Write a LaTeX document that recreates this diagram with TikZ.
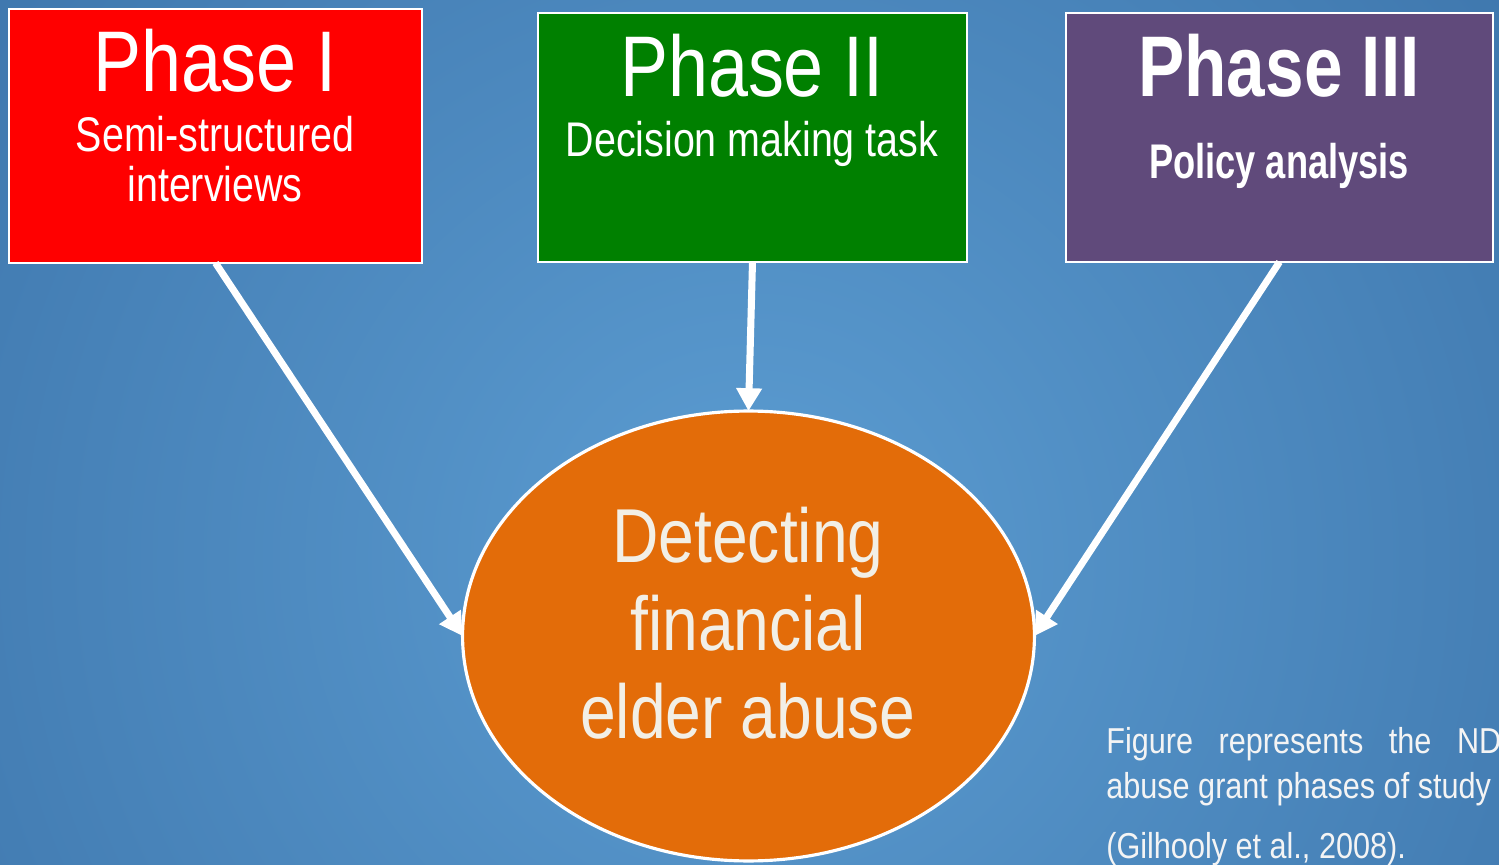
\documentclass[tikz,border=0pt]{standalone}
\usepackage{fontspec}
\setmainfont[FakeStretch=0.81]{Liberation Sans}
\newfontfamily\titlefont[FakeStretch=0.835]{Liberation Sans}
\newfontfamily\bigbold[FakeStretch=0.805]{Liberation Sans}
\newfontfamily\smallbold[FakeStretch=0.745]{Liberation Sans}
\newfontfamily\ellfont[FakeStretch=0.84]{Liberation Sans}
\newfontfamily\capfont[FakeStretch=0.85]{Liberation Sans}
\usetikzlibrary{arrows.meta,shapes.geometric}
\definecolor{bgin}{HTML}{5C9DD2}
\definecolor{bgout}{HTML}{30649B}
\definecolor{pred}{HTML}{FF0000}
\definecolor{pgreen}{HTML}{008000}
\definecolor{ppurple}{HTML}{604A7B}
\definecolor{porange}{HTML}{E36C09}
\definecolor{etext}{HTML}{F2EFE6}
\definecolor{captext}{HTML}{F4F4F4}
\tikzset{
  phasebox/.style={draw=white, line width=1.2pt, rectangle, inner sep=0pt, outer sep=0pt},
  centerbox/.style={draw=white, line width=1.8pt, ellipse, fill=porange, inner sep=0pt, outer sep=0pt, minimum width=11.44cm, minimum height=9.0cm},
  flowarrow/.style={draw=white, line width=4pt, -{Triangle[length=13pt,width=14pt]}, shorten >=0pt},
  bigtitle/.style={text=white, anchor=base, inner sep=0pt, font=\fontsize{49}{55}\titlefont},
  subtitle/.style={text=white, anchor=base, inner sep=0pt, font=\fontsize{27.7}{30}\selectfont},
  centertext/.style={text=etext, anchor=base, inner sep=0pt, font=\fontsize{43.5}{48}\ellfont},
  captionline/.style={text=captext, anchor=base west, inner sep=0pt, font=\fontsize{20.5}{24}\capfont}
}
\begin{document}
\begin{tikzpicture}[x=0.02cm, y=-0.02cm]
\useasboundingbox (0,0) rectangle (1499,865);
\begin{scope}
\clip (0,0) rectangle (1499,865);
\fill[bgout] (0,0) rectangle (1499,865);
\shade[inner color=bgin, outer color=bgout] (750,560) circle (1450);

% boxes
\node[phasebox, fill=pred, minimum width=8.26cm, minimum height=5.08cm] (p1) at (215.5,136) {};
\node[phasebox, fill=pgreen, minimum width=8.58cm, minimum height=4.98cm] (p2) at (752.5,137.5) {};
\node[phasebox, fill=ppurple, minimum width=8.54cm, minimum height=4.98cm] (p3) at (1279.5,137.5) {};
\node[centerbox] (e) at (748.5,636) {};

% box texts
\node[bigtitle] (t1) at (215,92) {Phase I};
\node[subtitle] (s1a) at (215,152) {Semi-structured};
\node[subtitle] (s1b) at (215,202) {interviews};
\node[bigtitle] (t2) at (752,97) {Phase II};
\node[subtitle] (s2) at (752,157) {Decision making task};
\node[bigtitle, font=\fontsize{49}{55}\bigbold\bfseries] (t3) at (1279,97) {Phase III};
\node[subtitle, font=\fontsize{27.7}{30}\smallbold\bfseries] (s3) at (1279,178) {Policy analysis};

% ellipse text
\node[centertext] (c1) at (748,562) {Detecting};
\node[centertext] (c2) at (748,650) {financial};
\node[centertext] (c3) at (748,738) {elder abuse};

% arrows
\draw[flowarrow] (p1.south) -- (e.west);
\draw[flowarrow] (p2.south) -- (e.north);
\draw[flowarrow] (p3.south) -- (e.east);

% caption
\node[captionline] (cap1) at (1106,753) {\hbox to 7.9cm{Figure\hfill represents\hfill the\hfill ND}};
\node[captionline] (cap2) at (1106,798) {abuse grant phases of study};
\node[captionline] (cap3) at (1106,858) {(Gilhooly et al., 2008).};
\end{scope}
\end{tikzpicture}
\end{document}
